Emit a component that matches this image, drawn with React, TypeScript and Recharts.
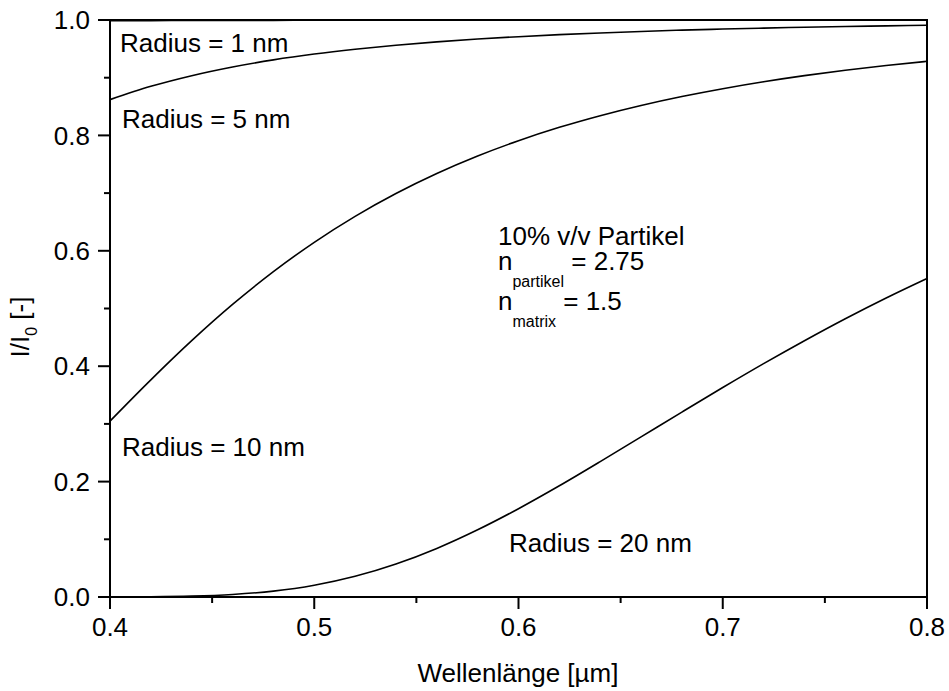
import React from "react";
import {
  LineChart,
  Line,
  XAxis,
  YAxis,
  ReferenceArea,
} from "recharts";

// Transmission I/I0 vs. wavelength for particles of different radius
const wavelengths = [
  0.4, 0.42, 0.44, 0.46, 0.48, 0.5, 0.52, 0.54, 0.56, 0.58, 0.6,
  0.62, 0.64, 0.66, 0.68, 0.7, 0.72, 0.74, 0.76, 0.78, 0.8,
];
const radius1nm = [
  0.9988, 0.999, 0.9992, 0.9993, 0.9994, 0.9995, 0.9996, 0.9996, 0.9997, 0.9997, 0.9998,
  0.9998, 0.9998, 0.9998, 0.9999, 0.9999, 0.9999, 0.9999, 0.9999, 0.9999, 0.9999,
];
const radius5nm = [
  0.862, 0.885, 0.9035, 0.9186, 0.9309, 0.941, 0.9493, 0.9563, 0.9621, 0.967, 0.9711,
  0.9746, 0.9776, 0.9802, 0.9824, 0.9843, 0.986, 0.9874, 0.9887, 0.9898, 0.9908,
];
const radius10nm = [
  0.3048, 0.3763, 0.4442, 0.507, 0.5639, 0.6147, 0.6597, 0.6993, 0.734, 0.7643, 0.7908,
  0.814, 0.8342, 0.8519, 0.8674, 0.881, 0.893, 0.9036, 0.9129, 0.9211, 0.9284,
];
const radius20nm = [
  0.0001, 0.0004, 0.0015, 0.0044, 0.0102, 0.0204, 0.0359, 0.0572, 0.0842, 0.1165, 0.153,
  0.1927, 0.2346, 0.2775, 0.3205, 0.363, 0.4044, 0.4442, 0.4823, 0.5183, 0.5521,
];

const xTicks = [0.4, 0.45, 0.5, 0.55, 0.6, 0.65, 0.7, 0.75, 0.8];
const yTicks = [0, 0.1, 0.2, 0.3, 0.4, 0.5, 0.6, 0.7, 0.8, 0.9, 1.0];

const data = wavelengths.map((w, i) => ({
  w,
  r1: radius1nm[i],
  r5: radius5nm[i],
  r10: radius10nm[i],
  r20: radius20nm[i],
}));

const FONT = "'Liberation Sans', Arial, sans-serif";
const W = 949;
const H = 691;

const isMajor = (v: number, step: number) =>
  Math.abs(v / step - Math.round(v / step)) < 1e-6;

const XTick = (props: any) => {
  const { x, y, payload } = props;
  const major = isMajor(payload.value, 0.1);
  return (
    <g>
      <line x1={x} y1={y} x2={x} y2={y + (major ? 12 : 6)} stroke="#000" strokeWidth={2} />
      {major && (
        <text x={x} y={y + 21} dy="0.71em" textAnchor="middle" fontSize={26} fontFamily={FONT} fill="#000">
          {payload.value.toFixed(1)}
        </text>
      )}
    </g>
  );
};

const YTick = (props: any) => {
  const { x, y, payload } = props;
  const major = isMajor(payload.value, 0.2);
  return (
    <g>
      <line x1={x - (major ? 12 : 6)} y1={y} x2={x} y2={y} stroke="#000" strokeWidth={2} />
      {major && (
        <text x={x - 20} y={y} dy="0.355em" textAnchor="end" fontSize={26} fontFamily={FONT} fill="#000">
          {payload.value.toFixed(1)}
        </text>
      )}
    </g>
  );
};

export default function App() {
  const series = ["r1", "r5", "r10", "r20"];
  return (
    <div style={{ position: "absolute", left: 0, top: 0, width: W, height: H, background: "#fff" }}>
      <LineChart
        width={W}
        height={H}
        data={data}
        margin={{ top: 20, right: 22, bottom: 0, left: 0 }}
      >
        <XAxis
          dataKey="w"
          type="number"
          domain={[0.4, 0.8]}
          ticks={xTicks}
          interval={0}
          tickSize={0}
          tickMargin={0}
          tickLine={false}
          tick={<XTick />}
          axisLine={{ stroke: "#000", strokeWidth: 2 }}
          height={94}
        />
        <YAxis
          type="number"
          domain={[0, 1]}
          ticks={yTicks}
          interval={0}
          tickSize={0}
          tickMargin={0}
          tickLine={false}
          tick={<YTick />}
          axisLine={{ stroke: "#000", strokeWidth: 2 }}
          width={110}
        />
        <ReferenceArea
          x1={0.4}
          x2={0.8}
          y1={0}
          y2={1}
          fill="none"
          fillOpacity={0}
          stroke="#000"
          strokeWidth={2}
          strokeOpacity={1}
        />
        {series.map((key) => (
          <Line
            key={key}
            dataKey={key}
            type="monotone"
            stroke="#000"
            strokeWidth={1.6}
            dot={false}
            activeDot={false}
            isAnimationActive={false}
          />
        ))}
      </LineChart>
      <svg
        width={W}
        height={H}
        style={{ position: "absolute", left: 0, top: 0, pointerEvents: "none" }}
        fontFamily={FONT}
        fill="#000"
      >
        <text x={120} y={52} fontSize={26}>Radius = 1 nm</text>
        <text x={122} y={128} fontSize={26}>Radius = 5 nm</text>
        <text x={122} y={456} fontSize={26}>Radius = 10 nm</text>
        <text x={509} y={552} fontSize={26}>Radius = 20 nm</text>

        <text x={498} y={245} fontSize={26}>10% v/v Partikel</text>
        <text x={498} y={270} fontSize={26}>
          n
          <tspan dy={17} fontSize={16}>partikel</tspan>
          <tspan dy={-17}> = 2.75</tspan>
        </text>
        <text x={498} y={310} fontSize={26}>
          n
          <tspan dy={17} fontSize={16}>matrix</tspan>
          <tspan dy={-17}> = 1.5</tspan>
        </text>

        <text x={518} y={682} fontSize={26} textAnchor="middle">
          Wellenlänge [µm]
        </text>
        <text
          transform="translate(29, 327) rotate(-90)"
          fontSize={26}
          textAnchor="middle"
        >
          I/I
          <tspan dy={8} fontSize={16}>0</tspan>
          <tspan dy={-8}> [-]</tspan>
        </text>
      </svg>
    </div>
  );
}
